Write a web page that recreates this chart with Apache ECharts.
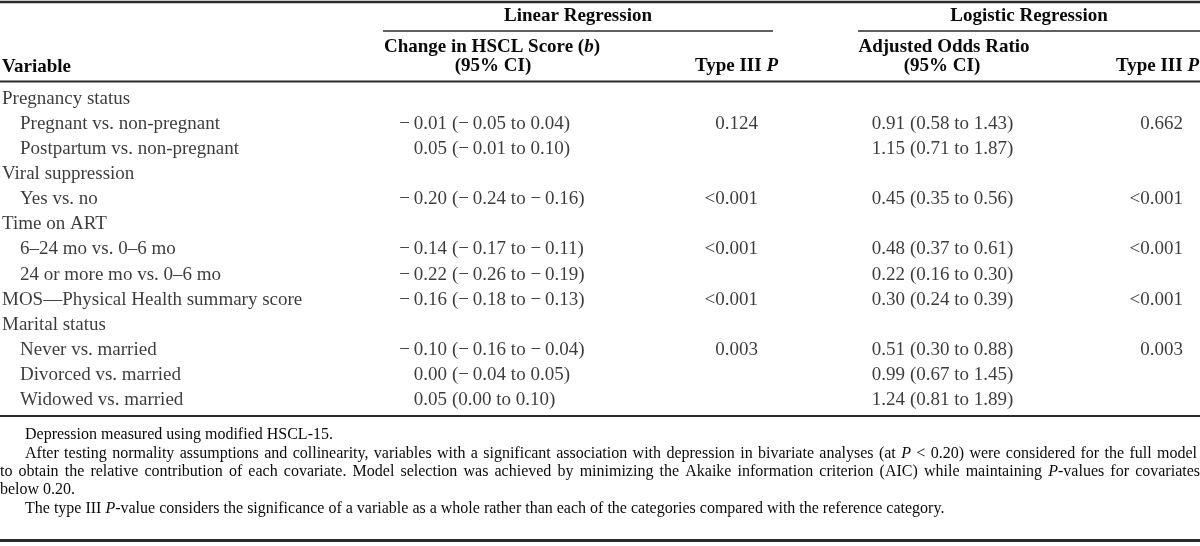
<!DOCTYPE html>
<html>
<head>
<meta charset="utf-8">
<script src="https://cdn.jsdelivr.net/npm/echarts@6/dist/echarts.min.js"></script>
<style>
html, body { margin: 0; padding: 0; background: #fff; }
#chart { width: 1200px; height: 546px; }
</style>
</head>
<body>
<div id="chart"></div>
<script>
// table rows (variable column)
const rowLabels = [
  "Pregnancy status",
  "Pregnant vs. non-pregnant",
  "Postpartum vs. non-pregnant",
  "Viral suppression",
  "Yes vs. no",
  "Time on ART",
  "6–24 mo vs. 0–6 mo",
  "24 or more mo vs. 0–6 mo",
  "MOS—Physical Health summary score",
  "Marital status",
  "Never vs. married",
  "Divorced vs. married",
  "Widowed vs. married"
]
const rowIsSub = [0, 1, 1, 0, 1, 0, 1, 1, 0, 0, 1, 1, 1]

// linear regression
const linEst = ["", "−0.01", "0.05", "", "−0.20", "", "−0.14", "−0.22", "−0.16", "", "−0.10", "0.00", "0.05"]
const linCI = ["", "(−0.05 to 0.04)", "(−0.01 to 0.10)", "", "(−0.24 to −0.16)", "", "(−0.17 to −0.11)",
  "(−0.26 to −0.19)", "(−0.18 to −0.13)", "", "(−0.16 to −0.04)", "(−0.04 to 0.05)", "(0.00 to 0.10)"]
const linP = ["", "0.124", "", "", "<0.001", "", "<0.001", "", "<0.001", "", "0.003", "", ""]

// logistic regression
const logOR = ["", "0.91", "1.15", "", "0.45", "", "0.48", "0.22", "0.30", "", "0.51", "0.99", "1.24"]
const logCI = ["", "(0.58 to 1.43)", "(0.71 to 1.87)", "", "(0.35 to 0.56)", "", "(0.37 to 0.61)",
  "(0.16 to 0.30)", "(0.24 to 0.39)", "", "(0.30 to 0.88)", "(0.67 to 1.45)", "(0.81 to 1.89)"]
const logP = ["", "0.662", "", "", "<0.001", "", "<0.001", "", "<0.001", "", "0.003", "", ""]

// notes under the table, *P* = italic
const notes = [
  "Depression measured using modified HSCL-15.",
  "After testing normality assumptions and collinearity, variables with a significant association with depression in bivariate analyses (at *P* < 0.20) were considered for the full model",
  "to obtain the relative contribution of each covariate. Model selection was achieved by minimizing the Akaike information criterion (AIC) while maintaining *P*-values for covariates",
  "below 0.20.",
  "The type III *P*-value considers the significance of a variable as a whole rather than each of the categories compared with the reference category."
]

const SERIF = '"Liberation Serif", "Times New Roman", serif'
const INK = "#0a0a0a"
const RULE = "#2a2a2a"
const BODY_SIZE = 19
const NOTE_SIZE = 16

// each column gets its own thin grid; the anchor is the grid's centre
const TOP = 86.5
const HEIGHT = 326
const columns = [
  { anchor: 2, values: rowLabels, pos: "right" },
  { anchor: 447, values: linEst, pos: "left" },
  { anchor: 452, values: linCI, pos: "right" },
  { anchor: 758, values: linP, pos: "left" },
  { anchor: 905, values: logOR, pos: "left" },
  { anchor: 910, values: logCI, pos: "right" },
  { anchor: 1183, values: logP, pos: "left" }
]

const grid = columns.map(c => ({ left: c.anchor - 1, width: 2, top: TOP, height: HEIGHT }))
const xAxis = columns.map((c, i) => ({
  type: "category", gridIndex: i, data: ["c"], boundaryGap: true, show: false
}))
const yAxis = columns.map((c, i) => ({
  type: "category", gridIndex: i, data: rowLabels, inverse: true, boundaryGap: true, show: false
}))

const series = columns.map((c, i) => ({
  type: "scatter",
  xAxisIndex: i,
  yAxisIndex: i,
  symbolSize: 0,
  silent: true,
  data: c.values
    .map((v, r) => v ? {
      value: [0, r],
      name: v,
      label: i === 0 && rowIsSub[r] ? { offset: [18, 0] } : undefined
    } : null)
    .filter(Boolean),
  label: {
    show: true,
    position: c.pos,
    distance: 0,
    // typeset minus sign sits a little apart from the digits
    formatter: p => p.name.replace(/−/g, "−\u2009"),
    fontFamily: SERIF,
    fontSize: BODY_SIZE,
    color: INK
  }
}))

// header texts
const bold = { fontFamily: SERIF, fontSize: 19, fontWeight: "bold", fill: INK }
function headText(text, x, y, align, rich) {
  return {
    type: "text",
    silent: true,
    style: Object.assign({ text, x, y, align, verticalAlign: "middle", rich }, bold)
  }
}
const boldRich = {
  b: { fontFamily: SERIF, fontSize: 19, fontWeight: "bold", fill: INK },
  bi: { fontFamily: SERIF, fontSize: 19, fontWeight: "bold", fontStyle: "italic", fill: INK }
}

function rule(x1, x2, y, w) {
  return { type: "line", silent: true, shape: { x1, y1: y, x2, y2: y }, style: { stroke: RULE, lineWidth: w } }
}

// notes: justified lines are laid out word by word
const measureCtx = document.createElement("canvas").getContext("2d")
function segWidth(seg) {
  measureCtx.font = (seg.it ? "italic " : "") + NOTE_SIZE + 'px "Liberation Serif"'
  return measureCtx.measureText(seg.t).width
}
function parseWord(w) {
  return w.split("*").map((t, k) => ({ t, it: k % 2 === 1 })).filter(s => s.t)
}
function wordRich(segs) {
  return segs.map(s => "{" + (s.it ? "i" : "r") + "|" + s.t + "}").join("")
}
const noteRich = {
  r: { fontFamily: SERIF, fontSize: NOTE_SIZE, fill: INK },
  i: { fontFamily: SERIF, fontSize: NOTE_SIZE, fontStyle: "italic", fill: INK }
}
function noteLine(text, x0, x1, y, justify) {
  const words = text.split(" ").map(parseWord)
  const widths = words.map(segs => segs.reduce((a, s) => a + segWidth(s), 0))
  const space = segWidth({ t: " ", it: false })
  const total = widths.reduce((a, b) => a + b, 0)
  const gap = justify ? (x1 - x0 - total) / (words.length - 1) : space
  const out = []
  let x = x0
  words.forEach((segs, k) => {
    out.push({
      type: "text",
      silent: true,
      style: { text: wordRich(segs), x, y, align: "left", verticalAlign: "middle", rich: noteRich }
    })
    x += widths[k] + gap
  })
  return out
}

const graphic = [
  rule(0, 1200, 2, 2.5),
  headText("Linear Regression", 578, 16, "center"),
  headText("Logistic Regression", 1029, 16, "center"),
  rule(383, 773, 31, 1.5),
  rule(858, 1200, 31, 1.5),
  headText("{b|Change in HSCL Score (}{bi|b}{b|)}", 492, 47, "center", boldRich),
  headText("(95% CI)", 493, 66, "center"),
  headText("{b|Type III }{bi|P}", 778, 66, "right", boldRich),
  headText("Adjusted Odds Ratio", 944, 47, "center"),
  headText("(95% CI)", 942, 66, "center"),
  headText("{b|Type III }{bi|P}", 1199, 66, "right", boldRich),
  headText("Variable", 2, 67, "left"),
  rule(0, 1200, 81.5, 2),
  rule(0, 1200, 416, 2),
  rule(0, 1200, 540.5, 3)
].concat(
  noteLine(notes[0], 25, 0, 435, false),
  noteLine(notes[1], 25, 1197, 454, true),
  noteLine(notes[2], 0, 1200, 472, true),
  noteLine(notes[3], 0, 0, 490, false),
  noteLine(notes[4], 25, 0, 509, false)
)

const chart = echarts.init(document.getElementById("chart"))
chart.setOption({
  animation: false,
  backgroundColor: "#fff",
  grid,
  xAxis,
  yAxis,
  series,
  graphic
})
</script>
</body>
</html>
